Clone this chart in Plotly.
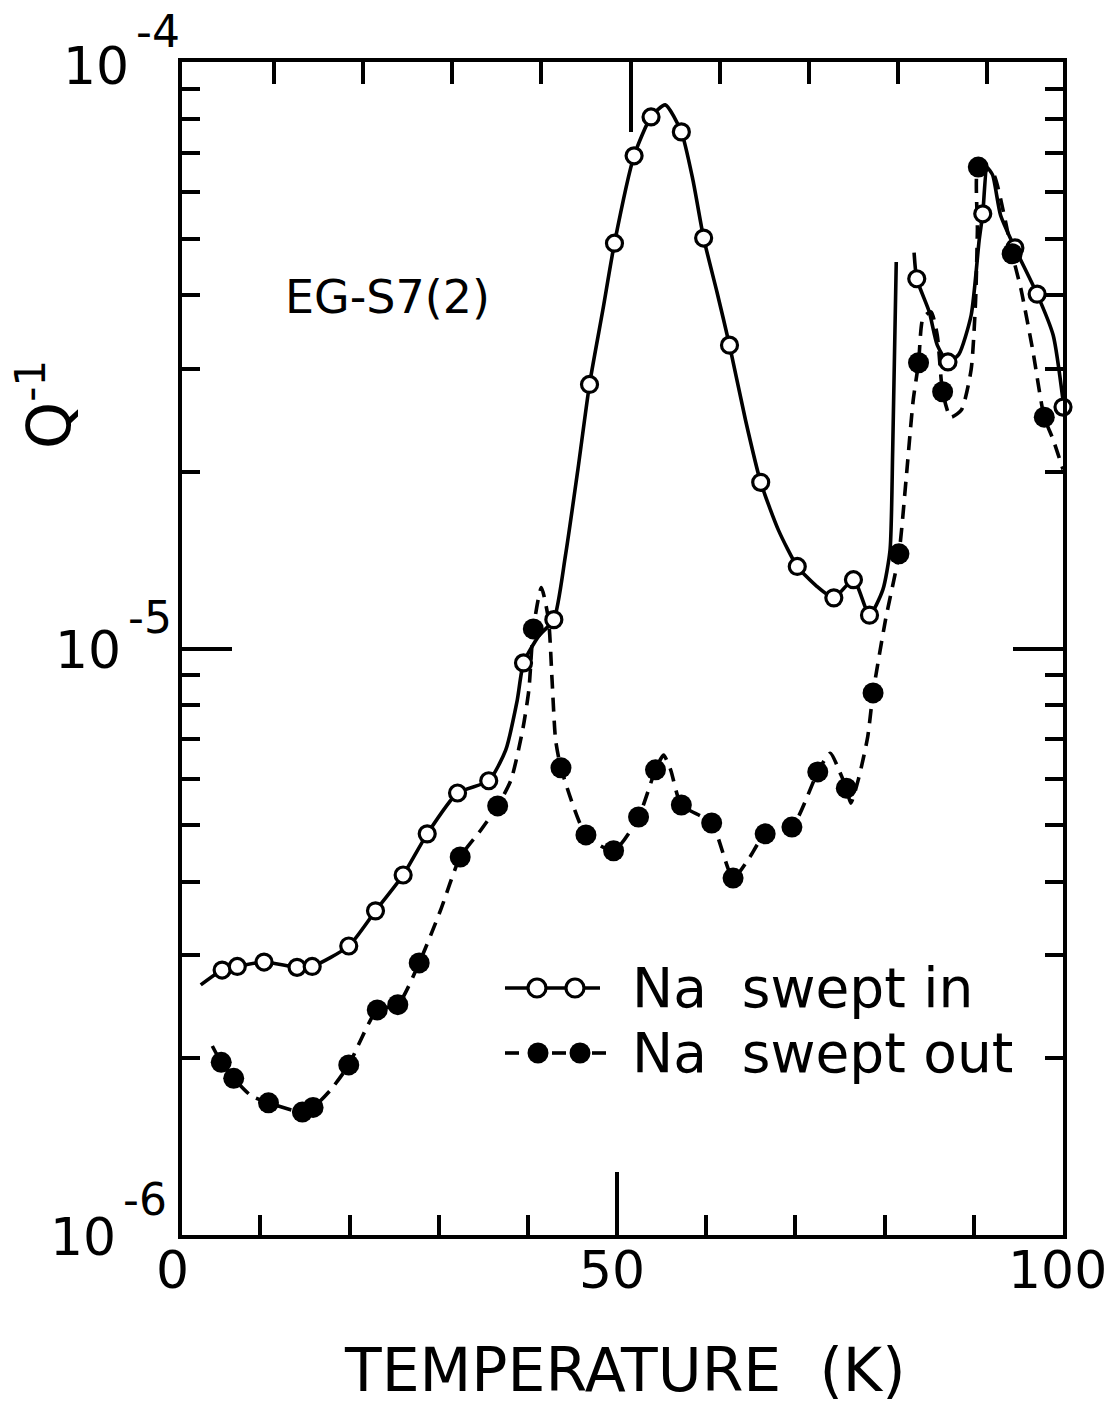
import plotly.graph_objects as go

# ---------------- data (temperature in K, internal friction Q^-1) ----------------
# Na swept in : open circles
in_T = [5.7, 7.4, 10.4, 14.1, 15.8, 19.9, 22.9, 26.0, 28.7, 32.1, 35.6, 39.5, 42.9,
        46.9, 49.7, 51.9, 53.8, 57.2, 59.7, 62.6, 66.1, 70.2, 74.3, 76.5, 78.3,
        83.6, 87.1, 91.0, 94.6, 97.1, 100.0]
in_Q = [2.83e-6, 2.87e-6, 2.92e-6, 2.86e-6, 2.87e-6, 3.11e-6, 3.57e-6, 4.11e-6, 4.83e-6,
        5.67e-6, 5.95e-6, 9.45e-6, 1.12e-5, 2.82e-5, 4.91e-5, 6.92e-5, 8.06e-5, 7.60e-5,
        5.01e-5, 3.29e-5, 1.92e-5, 1.38e-5, 1.22e-5, 1.31e-5, 1.14e-5, 4.27e-5, 3.08e-5,
        5.51e-5, 4.82e-5, 4.02e-5, 2.58e-5]

# Na swept out : filled circles
out_T = [5.6, 7.0, 10.9, 14.7, 15.9, 19.9, 23.1, 25.4, 27.8, 32.4, 36.6, 40.6, 43.7,
         46.5, 49.6, 52.4, 54.3, 57.2, 60.6, 63.0, 66.6, 69.6, 72.5, 75.7, 78.7,
         81.6, 83.8, 86.5, 90.5, 94.3, 97.9]
out_Q = [1.97e-6, 1.85e-6, 1.68e-6, 1.62e-6, 1.65e-6, 1.95e-6, 2.42e-6, 2.47e-6, 2.91e-6,
         4.41e-6, 5.39e-6, 1.08e-5, 6.26e-6, 4.81e-6, 4.52e-6, 5.16e-6, 6.21e-6, 5.41e-6,
         5.04e-6, 4.06e-6, 4.83e-6, 4.96e-6, 6.16e-6, 5.78e-6, 8.40e-6, 1.45e-5, 3.07e-5,
         2.74e-5, 6.62e-5, 4.71e-5, 2.48e-5]

# hand-drawn solid curve through the "swept in" data (two strokes)
solid_T = [3.3, 5.7, 7.4, 10.4, 14.1, 15.8, 19.9, 22.9, 26.0, 28.7, 32.1, 35.6, 37.5, 38.8,
           39.5, 41.2, 42.9, 44.2, 45.6, 46.9, 48.4, 49.7, 51.9, 53.8, 55.4, 57.2, 58.5,
           59.7, 61.2, 62.6, 64.4, 66.1, 68.1, 70.2, 72.3, 74.3, 76.5, 78.3, 79.8, 80.6,
           80.9, 81.3, None,
           83.3, 83.6, 85.0, 85.9, 87.1, 88.3, 89.7, 90.6, 91.0, 91.5, 92.1, 93.0, 94.6,
           97.1, 98.9, 100.0]
solid_Q = [2.67e-6, 2.83e-6, 2.87e-6, 2.92e-6, 2.86e-6, 2.87e-6, 3.11e-6, 3.57e-6, 4.11e-6,
           4.83e-6, 5.67e-6, 5.95e-6, 6.71e-6, 8.17e-6, 9.45e-6, 1.05e-5, 1.12e-5, 1.44e-5,
           2.02e-5, 2.82e-5, 3.78e-5, 4.91e-5, 6.92e-5, 8.06e-5, 8.45e-5, 7.60e-5, 6.29e-5,
           5.01e-5, 4.05e-5, 3.29e-5, 2.45e-5, 1.92e-5, 1.59e-5, 1.38e-5, 1.28e-5, 1.22e-5,
           1.31e-5, 1.14e-5, 1.26e-5, 1.47e-5, 2.18e-5, 4.56e-5, None,
           4.73e-5, 4.27e-5, 3.75e-5, 3.29e-5, 3.08e-5, 3.17e-5, 3.70e-5, 4.97e-5, 5.51e-5,
           6.60e-5, 6.42e-5, 5.48e-5, 4.82e-5, 4.02e-5, 3.42e-5, 2.65e-5]

# hand-drawn dashed curve through the "swept out" data
dash_T = [4.6, 5.6, 7.0, 8.9, 10.9, 14.7, 15.9, 17.9, 19.9, 23.1, 25.4, 27.8, 30.2, 32.4,
          34.7, 36.6, 38.1, 39.4, 40.1, 40.6, 41.5, 42.3, 42.7, 43.1, 43.7, 46.5, 49.6,
          52.4, 54.3, 55.2, 56.0, 57.2, 60.6, 63.0, 64.8, 66.6, 69.6, 72.5, 73.9, 75.1,
          75.7, 76.2, 77.1, 78.1, 78.7, 80.1, 81.6, 82.4, 83.2, 83.8, 84.3, 85.2, 85.9,
          86.5, 87.4, 88.6, 89.7, 90.2, 90.4, 90.5, 92.1, 93.4, 94.3, 95.3, 96.6, 97.9,
          98.9, 100.0]
dash_Q = [2.10e-6, 1.97e-6, 1.85e-6, 1.73e-6, 1.68e-6, 1.62e-6, 1.65e-6, 1.77e-6, 1.95e-6,
          2.42e-6, 2.47e-6, 2.91e-6, 3.58e-6, 4.41e-6, 4.90e-6, 5.39e-6, 5.97e-6, 7.26e-6,
          8.50e-6, 1.08e-5, 1.27e-5, 1.12e-5, 8.84e-6, 6.98e-6, 6.26e-6, 4.81e-6, 4.52e-6,
          5.16e-6, 6.21e-6, 6.58e-6, 6.21e-6, 5.41e-6, 5.04e-6, 4.06e-6, 4.39e-6, 4.83e-6,
          4.96e-6, 6.16e-6, 6.63e-6, 6.09e-6, 5.78e-6, 5.45e-6, 6.02e-6, 7.07e-6, 8.40e-6,
          1.12e-5, 1.45e-5, 1.94e-5, 2.65e-5, 3.07e-5, 3.66e-5, 3.75e-5, 3.42e-5, 2.74e-5,
          2.48e-5, 2.55e-5, 2.99e-5, 3.93e-5, 5.17e-5, 6.62e-5, 6.49e-5, 5.48e-5, 4.71e-5,
          4.09e-5, 3.23e-5, 2.48e-5, 2.27e-5, 2.02e-5]

# axis ticks and labels
x_major = [50]
x_minor = [10, 20, 30, 40, 60, 70, 80, 90]
x_label_vals = ["0", "50", "100"]
y_major = [1e-5]
y_minor = [2e-6, 3e-6, 4e-6, 5e-6, 6e-6, 7e-6, 8e-6, 9e-6,
           2e-5, 3e-5, 4e-5, 5e-5, 6e-5, 7e-5, 8e-5, 9e-5]
y_label_base = "10"
y_label_exps = ["-4", "-5", "-6"]
sample_name = "EG-S7(2)"
series_names = ["Na\u00a0\u00a0swept in", "Na\u00a0\u00a0swept out"]

# ---------------- layout geometry (pixels) ----------------
W, H = 1113, 1421
L, R, T, B = 182, 50, 62, 186
PW, PH = W - L - R, H - T - B
FONT = "DejaVu Sans"


def px(x):
    return (x - L) / PW


def py(y):
    return (H - B - y) / PH


fig = go.Figure()
fig.add_trace(go.Scatter(x=solid_T, y=solid_Q, mode="lines", connectgaps=False,
                         line=dict(color="black", width=3.6, shape="spline", smoothing=0.6),
                         hoverinfo="skip"))
fig.add_trace(go.Scatter(x=dash_T, y=dash_Q, mode="lines",
                         line=dict(color="black", width=3.6, dash="14px,9px",
                                   shape="spline", smoothing=0.6),
                         hoverinfo="skip"))
fig.add_trace(go.Scatter(x=in_T, y=in_Q, mode="markers", name=series_names[0],
                         marker=dict(symbol="circle", size=16, color="white",
                                     line=dict(color="black", width=3.2)),
                         cliponaxis=False))
fig.add_trace(go.Scatter(x=out_T, y=out_Q, mode="markers", name=series_names[1],
                         marker=dict(symbol="circle", size=21, color="black",
                                     line=dict(color="black", width=0)),
                         cliponaxis=False))
# empty trace that carries the (slightly offset, hand-drawn) top tick row
fig.add_trace(go.Scatter(x=[None], y=[None], xaxis="x2", yaxis="y", mode="markers",
                         hoverinfo="skip", showlegend=False))

fig.update_layout(
    width=W, height=H, margin=dict(l=L, r=R, t=T, b=B, pad=0),
    plot_bgcolor="white", paper_bgcolor="white", showlegend=False,
    font=dict(family=FONT, color="black"),
)
fig.update_layout(
    xaxis=dict(
        range=[1.2, 100], showline=True, linewidth=4, linecolor="black", mirror=True,
        ticks="inside", tickvals=x_major, ticklen=63, tickwidth=4, tickcolor="black",
        showticklabels=False, showgrid=False, zeroline=False,
        minor=dict(tickvals=x_minor, ticks="inside", ticklen=20, tickwidth=4,
                   tickcolor="black", showgrid=False),
    ),
    xaxis2=dict(
        overlaying="x", side="top", anchor="y", range=[-0.3, 98.5], showline=False,
        ticks="inside", tickvals=x_major, ticklen=70, tickwidth=4, tickcolor="black",
        showticklabels=False, showgrid=False, zeroline=False,
        minor=dict(tickvals=x_minor, ticks="inside", ticklen=22, tickwidth=4,
                   tickcolor="black", showgrid=False),
    ),
    yaxis=dict(
        type="log", range=[-6, -4], showline=True, linewidth=4, linecolor="black",
        mirror="ticks", ticks="inside", tickvals=y_major, ticklen=50, tickwidth=4,
        tickcolor="black", showticklabels=False, showgrid=False, zeroline=False,
        minor=dict(tickvals=y_minor, ticks="inside", ticklen=18, tickwidth=4,
                   tickcolor="black", showgrid=False),
    ),
)

ann = []
# x tick labels
for txt, cx in zip(x_label_vals, [172, 612, 1057]):
    ann.append(dict(text=txt, x=px(cx), y=py(1270), xref="paper", yref="paper",
                    showarrow=False, xanchor="center", yanchor="middle",
                    font=dict(size=52, family=FONT)))
# y tick labels: "10" followed by a raised exponent
ten_right = [131, 123, 118]
ten_mid = [66, 650, 1237]
exp_left = [134, 126, 121]
exp_mid = [31, 617, 1199]
for e, tr, tm, el, em in zip(y_label_exps, ten_right, ten_mid, exp_left, exp_mid):
    ann.append(dict(text=y_label_base, x=px(tr), y=py(tm), xref="paper", yref="paper",
                    showarrow=False, xanchor="right", yanchor="middle",
                    font=dict(size=52, family=FONT)))
    ann.append(dict(text=e, x=px(el), y=py(em), xref="paper", yref="paper",
                    showarrow=False, xanchor="left", yanchor="middle",
                    font=dict(size=44, family=FONT)))
# axis titles
ann.append(dict(text="TEMPERATURE\u00a0\u00a0(K)", x=px(625), y=py(1370), xref="paper",
                yref="paper", showarrow=False, xanchor="center", yanchor="middle",
                font=dict(size=60, family=FONT)))
ann.append(dict(text="Q<sup>-1</sup>", x=px(45), y=py(405), xref="paper", yref="paper",
                showarrow=False, xanchor="center", yanchor="middle", textangle=-90,
                font=dict(size=60, family=FONT)))
# sample label
ann.append(dict(text=sample_name, x=px(387), y=py(297), xref="paper", yref="paper",
                showarrow=False, xanchor="center", yanchor="middle",
                font=dict(size=46, family=FONT)))
# legend texts
leg_rows = [988, 1053]
for name, ly in zip(series_names, leg_rows):
    ann.append(dict(text=name, x=px(630), y=py(ly), xref="paper", yref="paper",
                    showarrow=False, xanchor="left", yanchor="middle",
                    font=dict(size=55, family=FONT)))

shapes = []
# legend sample 1: solid line with two open circles
shapes.append(dict(type="line", xref="paper", yref="paper", x0=px(505), x1=px(600),
                   y0=py(leg_rows[0]), y1=py(leg_rows[0]),
                   line=dict(color="black", width=3.6)))
for cx in [537, 575]:
    r = 9
    shapes.append(dict(type="circle", xref="paper", yref="paper",
                       x0=px(cx - r), x1=px(cx + r),
                       y0=py(leg_rows[0] + r), y1=py(leg_rows[0] - r),
                       fillcolor="white", line=dict(color="black", width=3.2)))
# legend sample 2: dashes with two filled circles
for a, b in [(505, 519), (552, 566), (592, 606)]:
    shapes.append(dict(type="line", xref="paper", yref="paper", x0=px(a), x1=px(b),
                       y0=py(leg_rows[1]), y1=py(leg_rows[1]),
                       line=dict(color="black", width=3.6)))
for cx in [538, 580]:
    r = 10.5
    shapes.append(dict(type="circle", xref="paper", yref="paper",
                       x0=px(cx - r), x1=px(cx + r),
                       y0=py(leg_rows[1] + r), y1=py(leg_rows[1] - r),
                       fillcolor="black", line=dict(color="black", width=0)))

fig.update_layout(annotations=ann, shapes=shapes)
fig.write_html("out.html")
